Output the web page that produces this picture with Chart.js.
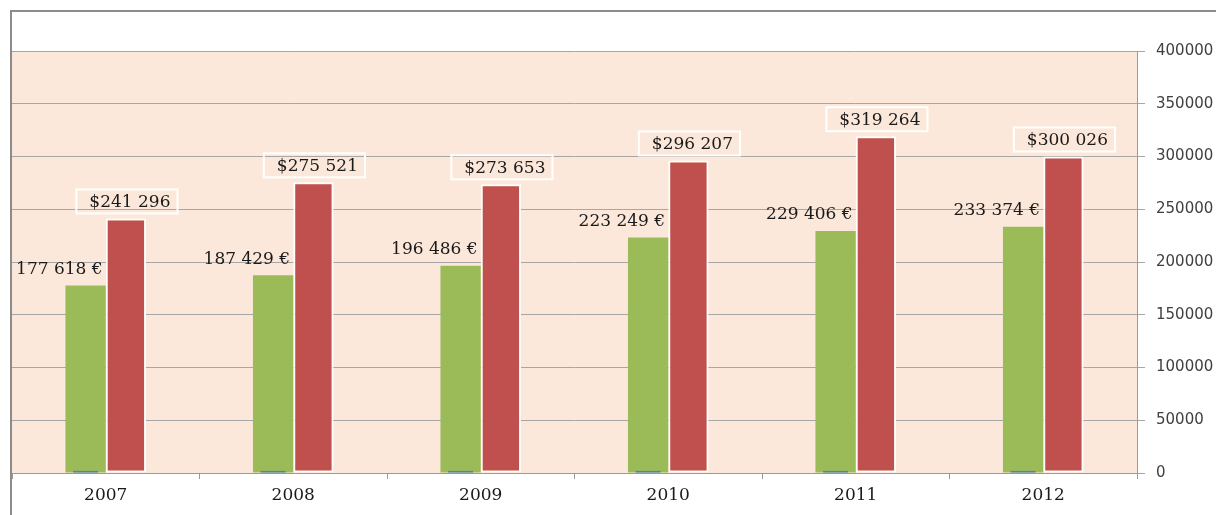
<!DOCTYPE html>
<html>
<head>
<meta charset="utf-8">
<script src="https://cdn.jsdelivr.net/npm/chart.js@4.4.1/dist/chart.umd.min.js"></script>
<style>
    html, body { margin: 0; padding: 0; background: #fff; }
</style>
</head>
<body>
<canvas id="chartVentes" width="1216" height="515"></canvas>
<script>
const annees = ['2007', '2008', '2009', '2010', '2011', '2012'];
const ventesEuro = [177618, 187429, 196486, 223249, 229406, 233374];
const ventesDollar = [241296, 275521, 273653, 296207, 319264, 300026];
const serieBleue = [2000, 2000, 2000, 2000, 2000, 2000];
const ticksY = [0, 50000, 100000, 150000, 200000, 250000, 300000, 350000, 400000];

const POLICE_SERIF = '"DejaVu Serif", "Liberation Serif", serif';

// espace comme séparateur de milliers
function formatNombre(v) {
    return String(v).replace(/\B(?=(\d{3})+(?!\d))/g, ' ');
}

// fond blanc, cadre gris et zone de tracé couleur pêche
const fondCadre = {
    id: 'fondCadre',
    beforeDraw(chart) {
        const { ctx, chartArea } = chart;
        ctx.save();
        ctx.fillStyle = '#ffffff';
        ctx.fillRect(0, 0, chart.width, chart.height);
        ctx.fillStyle = '#fce8da';
        ctx.fillRect(chartArea.left, chartArea.top, chartArea.right - chartArea.left, chartArea.bottom - chartArea.top);
        ctx.strokeStyle = '#8c8c8c';
        ctx.lineWidth = 2;
        ctx.beginPath();
        ctx.moveTo(11, chart.height);
        ctx.lineTo(11, 11);
        ctx.lineTo(chart.width, 11);
        ctx.stroke();
        ctx.restore();
    }
};

// étiquettes : € à gauche sans cadre, $ dans un cadre blanc
const etiquettes = {
    id: 'etiquettes',
    afterDatasetsDraw(chart) {
        const ctx = chart.ctx;
        ctx.save();
        ctx.font = '17px ' + POLICE_SERIF;
        ctx.fillStyle = '#1a1a1a';
        ctx.textBaseline = 'middle';

        chart.getDatasetMeta(1).data.forEach((bar, i) => {
            ctx.textAlign = 'right';
            ctx.fillText(formatNombre(ventesEuro[i]) + ' €', bar.x + 17, bar.y - 16);
        });

        chart.getDatasetMeta(2).data.forEach((bar, i) => {
            const texte = '$' + formatNombre(ventesDollar[i]);
            const largeur = ctx.measureText(texte).width + 20;
            const hauteur = 24;
            const cx = bar.x + 1;
            const bas = bar.y - 5;
            ctx.strokeStyle = '#ffffff';
            ctx.lineWidth = 2;
            ctx.strokeRect(cx - largeur / 2, bas - hauteur, largeur, hauteur);
            ctx.textAlign = 'center';
            ctx.fillText(texte, cx + 3, bas - hauteur / 2 + 1);
        });
        ctx.restore();
    }
};

new Chart(document.getElementById('chartVentes').getContext('2d'), {
    type: 'bar',
    data: {
        labels: annees,
        datasets: [
            // petite série bleue, même emplacement que la verte
            { data: serieBleue, stack: 'g', backgroundColor: '#4f81bd', categoryPercentage: 0.43, barPercentage: 0.62 },
            { data: ventesEuro, stack: 'g', backgroundColor: '#9bbb59', categoryPercentage: 0.43, barPercentage: 1 },
            {
                data: ventesDollar, stack: 'r', backgroundColor: '#c0504d',
                borderColor: '#ffffff', borderWidth: 2, borderSkipped: false,
                categoryPercentage: 0.43, barPercentage: 1
            }
        ]
    },
    options: {
        responsive: false,
        animation: false,
        layout: { padding: { left: 12, top: 51, right: 0, bottom: 0 } },
        plugins: {
            legend: { display: false },
            tooltip: { enabled: false }
        },
        scales: {
            x: {
                type: 'category',
                offset: true,
                grid: { offset: true, drawOnChartArea: false, tickLength: 6, color: '#9a9a9a' },
                border: { color: '#9a9a9a', width: 1 },
                ticks: { color: '#1a1a1a', font: { family: POLICE_SERIF, size: 17 }, padding: 6 },
                afterFit(scale) { scale.height = 42; }
            },
            y: {
                position: 'right',
                stacked: false,
                min: 0,
                max: 400000,
                afterBuildTicks(scale) { scale.ticks = ticksY.map(v => ({ value: v })); },
                grid: { color: '#a6a6a6', tickLength: 8 },
                border: { color: '#9a9a9a', width: 1 },
                ticks: {
                    color: '#404040',
                    font: { family: '"DejaVu Sans", Verdana, sans-serif', size: 15 },
                    padding: 11,
                    callback: v => String(v)
                },
                afterFit(scale) { scale.width = 79; }
            }
        }
    },
    plugins: [fondCadre, etiquettes]
});
</script>
</body>
</html>
